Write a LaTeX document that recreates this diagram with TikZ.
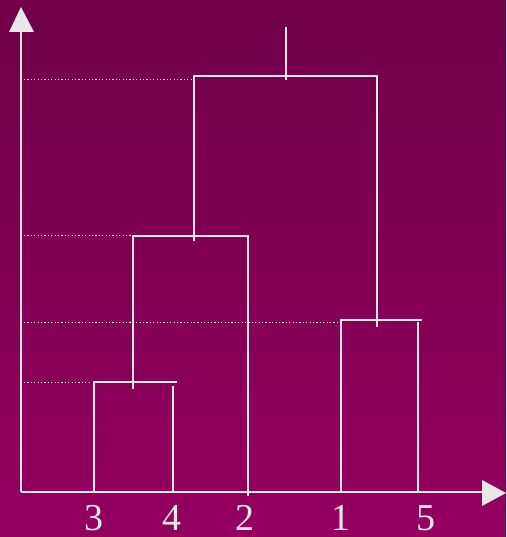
\documentclass[tikz,border=0pt]{standalone}
\usepackage{fontspec}
\setmainfont{Liberation Serif}
\definecolor{bgtop}{RGB}{112,0,72}
\definecolor{bgbot}{RGB}{148,0,96}
\definecolor{ink}{RGB}{232,232,232}
\begin{document}
\begin{tikzpicture}[x=1pt,y=-1pt,
  dline/.style={ink,line width=2.6pt,line cap=rect},
  guide/.style={ink,line width=0.9pt,dash pattern=on 1.2pt off 2.2pt},
  lab/.style={text=ink,font=\fontsize{38}{38}\selectfont,anchor=base,inner sep=0pt},
  tip/.style={fill=ink,draw=none}]
\useasboundingbox (0,0) rectangle (506,537);
\shade[top color=bgtop,bottom color=bgbot] (0,0) rectangle (506,537);
% axes
\coordinate (O) at (21,492);
\coordinate (Ytop) at (21,32);
\coordinate (Xend) at (484,492);
\draw[ink,line width=2.6pt] (O) -- (Ytop);
\draw[ink,line width=2.6pt] (O) -- (Xend);
\fill[tip] (9,32) -- (21,7) -- (34,32) -- cycle;
\fill[tip] (482,480) -- (506,493) -- (482,506) -- cycle;
% guide lines
\draw[guide] (24,79) -- (192,79);
\draw[guide] (24,235) -- (131,235);
\draw[guide] (24,322) -- (339,322);
\draw[guide] (24,382) -- (92,382);
% cluster 3-4
\draw[dline] (94,492) -- (94,382) -- (176,382);
\draw[dline] (173,492) -- (173,387);
% cluster (34)-2
\draw[dline] (133,388) -- (133,236) -- (248,236) -- (248,495);
% cluster 1-5
\draw[dline] (341,492) -- (341,320) -- (421,320);
\draw[dline] (418,492) -- (418,323);
% top cluster
\draw[dline] (194,240) -- (194,76) -- (377,76) -- (377,326);
\draw[dline] (286,79) -- (286,28);
% labels
\node[lab] (l3) at (94,530) {3};
\node[lab] (l4) at (172,530) {4};
\node[lab] (l2) at (245,530) {2};
\node[lab] (l1) at (341,530) {1};
\node[lab] (l5) at (426,530) {5};
\end{tikzpicture}
\end{document}
